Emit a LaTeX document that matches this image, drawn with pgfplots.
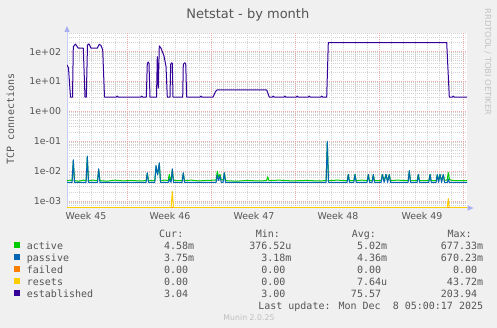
\documentclass[border=0pt]{standalone}
\usepackage{fontspec}
\setmainfont{DejaVu Sans}
\newfontfamily\dvs{DejaVu Sans}
\newfontfamily\dvm{DejaVu Sans Mono}
\usepackage{pgfplots}
\pgfplotsset{compat=1.18}
\usepackage{pgfplotstable}
\usetikzlibrary{arrows.meta}
\definecolor{cactive}{HTML}{00CC00}
\definecolor{cpassive}{HTML}{0066B3}
\definecolor{cfailed}{HTML}{FF8000}
\definecolor{cresets}{HTML}{FFCC00}
\definecolor{cestab}{HTML}{330099}
\definecolor{bgc}{HTML}{F0F0F0}
\definecolor{txt}{HTML}{555555}
\definecolor{mgrid}{RGB}{238,170,170}
\definecolor{ngrid}{RGB}{210,210,210}
\definecolor{axc}{RGB}{200,206,245}
\definecolor{arc}{RGB}{168,176,240}
\definecolor{wm}{RGB}{195,195,195}
\definecolor{ver}{RGB}{190,190,190}

\pgfplotstableread{
x y
0 0.0042
5.1 0.0042
6.3 0.024
7.5 0.0042
19.1 0.0042
20.3 0.032
21.5 0.0042
30.5 0.0042
31.7 0.012
32.9 0.0042
79.1 0.0042
80.3 0.0088
81.5 0.0042
87.8 0.0042
89.0 0.0155
90.6 0.0075
92.3 0.019
93.5 0.0042
101.5 0.0042
102.3 0.0055
103.4 0.0045
104.1 0.0042
105.3 0.012
106.5 0.0042
115.1 0.0042
116.3 0.0088
117.5 0.0042
149.1 0.0042
150.3 0.0075
151.5 0.0048
153.0 0.0068
154.2 0.0042
156.1 0.0042
157.3 0.0088
158.5 0.0042
259.1 0.0042
260.3 0.098
261.5 0.0042
280.1 0.0042
281.3 0.0077
282.5 0.0042
286.8 0.0042
288.0 0.0077
289.2 0.0042
300.1 0.0042
301.3 0.0077
302.5 0.0042
305.1 0.0042
306.3 0.0077
307.5 0.0042
314.1 0.0042
315.3 0.0077
317.1 0.0042
319.0 0.0077
320.6 0.0042
322.3 0.0077
323.5 0.0042
341.1 0.0042
342.3 0.0105
343.5 0.0042
350.1 0.0042
351.3 0.0077
352.5 0.0042
361.8 0.0042
363.0 0.0077
364.2 0.0042
369.1 0.0042
370.3 0.0077
371.6 0.0042
373.0 0.0077
374.6 0.0042
376.3 0.0077
377.5 0.0042
380.3 0.0042
381.3 0.0055
382.3 0.0042
400 0.0042
}\tabpassive

\pgfplotstableread{
x y
0 0.0048
3 0.0050
5.1 0.0048
6.3 0.022
7.5 0.0048
12 0.0046
16 0.0050
19.1 0.0048
20.3 0.030
21.5 0.0048
26 0.0050
30.5 0.0048
31.7 0.011
32.9 0.0048
40 0.0046
48 0.0050
56 0.0047
64 0.0049
72 0.0047
79.1 0.0048
80.3 0.0085
81.5 0.0048
87.8 0.0048
89.0 0.014
90.6 0.0078
92.3 0.018
93.5 0.0048
98 0.0050
101.1 0.0048
102.3 0.0078
103.5 0.0050
104.1 0.0048
105.3 0.011
106.5 0.0050
110 0.0048
115.1 0.0048
116.3 0.0085
117.5 0.0048
124 0.0050
132 0.0047
140 0.0049
149.1 0.0050
150.3 0.0100
151.5 0.0062
153.0 0.0078
154.2 0.0052
156.1 0.0050
157.3 0.0088
158.5 0.0048
170 0.0046
180 0.0049
190 0.0047
199.5 0.0048
200.7 0.0065
201.9 0.0048
212 0.0050
225 0.0047
240 0.0049
250 0.0047
259.1 0.0048
260.3 0.100
261.5 0.0048
270 0.0050
280.1 0.0048
281.3 0.0077
282.5 0.0048
286.8 0.0048
288.0 0.0077
289.2 0.0048
295 0.0050
300.1 0.0048
301.3 0.0077
302.5 0.0048
305.1 0.0048
306.3 0.0077
307.5 0.0048
314.1 0.0048
315.3 0.0077
317.1 0.0048
319.0 0.0077
320.6 0.0048
322.3 0.0077
323.5 0.0048
330 0.0050
341.1 0.0048
342.3 0.0100
343.5 0.0048
350.1 0.0048
351.3 0.0077
352.5 0.0048
361.8 0.0048
363.0 0.0077
364.2 0.0048
369.1 0.0048
370.3 0.0077
371.6 0.0048
373.0 0.0077
374.6 0.0048
376.3 0.0077
377.5 0.0050
380.1 0.0050
381.3 0.0089
382.5 0.0052
385 0.0049
390 0.0048
400 0.0048
}\tabactive

\pgfplotstableread{
x y
0 0.0006
400 0.0006
}\tabfailed

\pgfplotstableread{
x y
0 0.0006
104.1 0.0006
105.3 0.0021
106.5 0.0006
380.3 0.0006
381.3 0.0012
382.3 0.0006
400 0.0006
}\tabresets

\pgfplotstableread{
x y
0 36
1.5 28
3.5 3
5.5 3
6.3 147
8.5 178
11.3 130
16.3 130
18 3
19.3 3
20.5 166
22 181
24 130
30.3 130
32.3 176
34 160
35.7 114
37.5 3
49.3 3
50.3 3.25
51.3 3
73.7 3
74.7 3.25
75.7 3
79.3 3
80.3 40
81.3 45
82 40
83 3
89.5 3
90.3 68
91.3 6
92.3 155
94 130
97 72
99 32
100.3 3
103 3
103.7 38
104.7 42
105.3 40
106 3
115.7 3
116.3 38
117.7 42
118.7 40
119.7 3
133 3
134 3.25
135 3
146 3
148.5 4.6
150 5.2
199.7 5.2
202.3 3
205.3 3
206.3 3.25
207.3 3
217 3
218 3.25
219 3
229.3 3
230.3 3.25
231.3 3
241.3 3
242.3 3.25
243.3 3
253.7 3
254.7 3.25
255.7 3
259.7 3
261.3 200
379.7 200
382.3 3
385.3 3
386.3 3.25
387.3 3
400 3
}\tabestab

\begin{document}
\begin{tikzpicture}[x=1pt,y=1pt]
\useasboundingbox (0,0) rectangle (497,328);
\fill[bgc] (0,0) rectangle (497,328);
\begin{axis}[
  at={(67pt,120pt)}, anchor=south west,
  scale only axis, width=400pt, height=175.3pt,
  xmin=0, xmax=400,
  ymode=log, ymin=5.84e-4, ymax=429.5,
  axis background/.style={fill=white},
  axis x line*=bottom, axis y line*=left,
  axis line style={draw=axc, line width=1pt},
  x axis line style={-{Triangle[length=6pt,width=5pt,color=arc]}, shorten >=-6.6pt},
  y axis line style={-{Triangle[length=6pt,width=5pt,color=arc]}, shorten >=-6.7pt},
  major tick length=0pt, minor tick length=0pt,
  ytick={1e-3,1e-2,1e-1,1,10,100},
  yticklabels={1e-03,1e-02,1e-01,1e+00,1e+01,1e+02},
  minor ytick={6e-4,7e-4,8e-4,9e-4,
    2e-3,3e-3,4e-3,5e-3,6e-3,7e-3,8e-3,9e-3,
    2e-2,3e-2,4e-2,5e-2,6e-2,7e-2,8e-2,9e-2,
    2e-1,3e-1,4e-1,5e-1,6e-1,7e-1,8e-1,9e-1,
    2,3,4,5,6,7,8,9,
    20,30,40,50,60,70,80,90,
    200,300,400},
  ymajorgrids=true, yminorgrids=true,
  xtick={19,103,187,271,355},
  xticklabels={Week 45,Week 46,Week 47,Week 48,Week 49},
  extra x ticks={60.7,144.7,228.7,312.7,396.7},
  extra x tick labels={},
  extra x tick style={xmajorgrids=true},
  minor xtick={12.7,24.7,...,396.7},
  xminorgrids=true,
  major grid style={draw=mgrid, line width=1pt, dash pattern=on 1pt off 1pt},
  minor grid style={draw=ngrid, line width=1pt, dash pattern=on 1pt off 1pt},
  tick label style={font=\dvs\fontsize{9.4}{11}\selectfont, text=txt},
  yticklabel style={anchor=east, inner sep=0pt, xshift=-5.8pt},
  xticklabel style={anchor=base, inner sep=0pt, yshift=-12pt},
  no markers,
  every axis plot/.append style={line width=1pt, line join=round},
]
\addplot[cactive] table {\tabactive};
\addplot[cpassive] table {\tabpassive};
\addplot[cfailed] table {\tabfailed};
\addplot[cresets] table {\tabresets};
\addplot[cestab] table {\tabestab};
\end{axis}

% title and labels
\node[anchor=base, text=txt, font=\dvs\fontsize{13}{15}\selectfont] at (247.8,309.7) {Netstat - by month};
\node[anchor=base, rotate=90, text=txt, font=\dvm\fontsize{10}{12}\selectfont] at (14,209) {TCP connections};
\node[anchor=base, rotate=-90, text=wm, font=\dvs\fontsize{8.3}{10}\selectfont] at (485,266) {RRDTOOL / TOBI OETIKER};

% legend
\begin{scope}[every node/.style={text=txt, font=\dvm\fontsize{10}{12}\selectfont, inner sep=0pt}]
\node[anchor=base west] at (159,90.7) {Cur:};
\node[anchor=base west] at (255.7,90.7) {Min:};
\node[anchor=base west] at (351.7,90.7) {Avg:};
\node[anchor=base west] at (447.3,90.7) {Max:};

\fill[cactive]  (13.7,79.7) rectangle (20.3,86.3);
\fill[cpassive] (13.7,67.7) rectangle (20.3,74.3);
\fill[cfailed]  (13.7,55.7) rectangle (20.3,62.3);
\fill[cresets]  (13.7,43.7) rectangle (20.3,50.3);
\fill[cestab]   (13.7,31.7) rectangle (20.3,38.3);

\node[anchor=base west] at (26.7,78.7) {active};
\node[anchor=base west] at (26.7,66.7) {passive};
\node[anchor=base west] at (26.7,54.7) {failed};
\node[anchor=base west] at (26.7,42.7) {resets};
\node[anchor=base west] at (26.7,30.7) {established};

\node[anchor=base east] at (194.3,78.7) {4.58m};
\node[anchor=base east] at (291.7,78.7) {376.52u};
\node[anchor=base east] at (387.3,78.7) {5.02m};
\node[anchor=base east] at (483.3,78.7) {677.33m};

\node[anchor=base east] at (194.3,66.7) {3.75m};
\node[anchor=base east] at (291.7,66.7) {3.18m};
\node[anchor=base east] at (387.3,66.7) {4.36m};
\node[anchor=base east] at (483.3,66.7) {670.23m};

\node[anchor=base east] at (194.3,54.7) {0.00\phantom{m}};
\node[anchor=base east] at (291.7,54.7) {0.00\phantom{m}};
\node[anchor=base east] at (387.3,54.7) {0.00\phantom{m}};
\node[anchor=base east] at (483.3,54.7) {0.00\phantom{m}};

\node[anchor=base east] at (194.3,42.7) {0.00\phantom{m}};
\node[anchor=base east] at (291.7,42.7) {0.00\phantom{m}};
\node[anchor=base east] at (387.3,42.7) {7.64u};
\node[anchor=base east] at (483.3,42.7) {43.72m};

\node[anchor=base east] at (194.3,30.7) {3.04\phantom{m}};
\node[anchor=base east] at (291.7,30.7) {3.00\phantom{m}};
\node[anchor=base east] at (387.3,30.7) {75.57\phantom{m}};
\node[anchor=base east] at (483.3,30.7) {203.94\phantom{m}};

\node[anchor=base east] at (483.3,18.7) {Last update: Mon Dec\ \ 8 05:00:17 2025};
\end{scope}
\node[anchor=base, text=ver, font=\dvs\fontsize{7.8}{9}\selectfont, inner sep=0pt] at (249,7.3) {Munin 2.0.25};
\end{tikzpicture}
\end{document}
